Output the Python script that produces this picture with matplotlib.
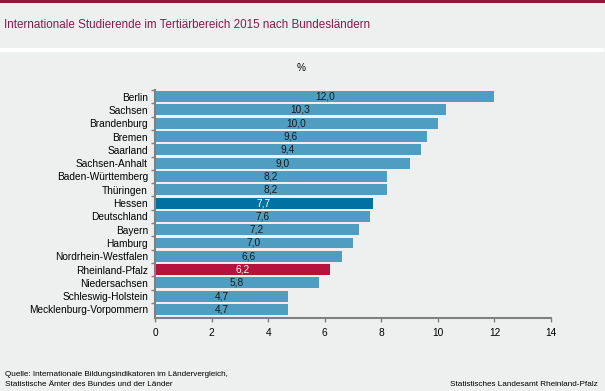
import matplotlib.pyplot as plt

laender = ['Berlin', 'Sachsen', 'Brandenburg', 'Bremen', 'Saarland', 'Sachsen-Anhalt',
           'Baden-Württemberg', 'Thüringen', 'Hessen', 'Deutschland', 'Bayern', 'Hamburg',
           'Nordrhein-Westfalen', 'Rheinland-Pfalz', 'Niedersachsen', 'Schleswig-Holstein',
           'Mecklenburg-Vorpommern']
anteil = [12.0, 10.3, 10.0, 9.6, 9.4, 9.0, 8.2, 8.2, 7.7, 7.6, 7.2, 7.0, 6.6, 6.2, 5.8, 4.7, 4.7]
xticks = [0, 2, 4, 6, 8, 10, 12, 14]

plt.rcParams['font.family'] = ['Liberation Sans', 'DejaVu Sans']

bg = '#eef0f0'
farben = []
for land in laender:
    if land == 'Hessen':
        farben.append('#0071a1')
    elif land == 'Rheinland-Pfalz':
        farben.append('#b5123e')
    else:
        farben.append('#4f9ec1')

fig = plt.figure(figsize=(6.05, 3.91), dpi=100)
fig.patch.set_facecolor(bg)

# Kopfleiste und Trennlinie
fig.add_artist(plt.Rectangle((0, 1 - 2.5 / 391), 1, 2.5 / 391, transform=fig.transFigure,
                             color='#8b1a3a', lw=0))
fig.add_artist(plt.Line2D([0, 0.995], [1 - 50 / 391] * 2, transform=fig.transFigure,
                          color='white', lw=2.9))
fig.text(4 / 605, 1 - 25 / 391, 'Internationale Studierende im Tertiärbereich 2015 nach Bundesländern',
         color='#8b1a4a', fontsize=8.4, va='center', ha='left')

ax = fig.add_axes([155 / 605, 1 - 318 / 391, 396 / 605, 228 / 391])
ax.set_facecolor(bg)
pos = list(range(len(laender)))
ax.barh(pos, anteil, height=0.82, color=farben)
ax.set_ylim(16.64, -0.5)
ax.set_xlim(0, 14)

for p, v, land in zip(pos, anteil, laender):
    c = 'white' if land in ('Hessen', 'Rheinland-Pfalz') else '#1a1a1a'
    ax.text(v / 2, p, f'{v:.1f}'.replace('.', ','), ha='center', va='center',
            fontsize=7.3, color=c)

ax.set_yticks(pos)
ax.set_yticklabels(laender, fontsize=7.3)
ax.set_yticks([p + 0.5 for p in pos[:-1]] + [-0.5], minor=True)
ax.tick_params(axis='y', which='major', length=0, pad=5)
ax.tick_params(axis='y', which='minor', length=3, color='#808080', width=1)
ax.set_xticks(xticks)
ax.set_xticklabels([str(t) for t in xticks], fontsize=7.3)
ax.tick_params(axis='x', length=3, color='#808080', width=1, pad=4)

for s in ['top', 'right']:
    ax.spines[s].set_visible(False)
for s in ['left', 'bottom']:
    ax.spines[s].set_color('#808080')
    ax.spines[s].set_linewidth(1.5)

fig.text(301 / 605, 1 - 68 / 391, '%', fontsize=7.3, ha='center', va='center')

fig.text(5 / 605, 1 - 375 / 391, 'Quelle: Internationale Bildungsindikatoren im Ländervergleich,',
         fontsize=5.9, ha='left', va='center')
fig.text(5 / 605, 1 - 384 / 391, 'Statistische Ämter des Bundes und der Länder',
         fontsize=5.9, ha='left', va='center')
fig.text(598 / 605, 1 - 384 / 391, 'Statistisches Landesamt Rheinland-Pfalz',
         fontsize=5.9, ha='right', va='center')

fig.savefig('out.png', dpi=100, facecolor=bg)
